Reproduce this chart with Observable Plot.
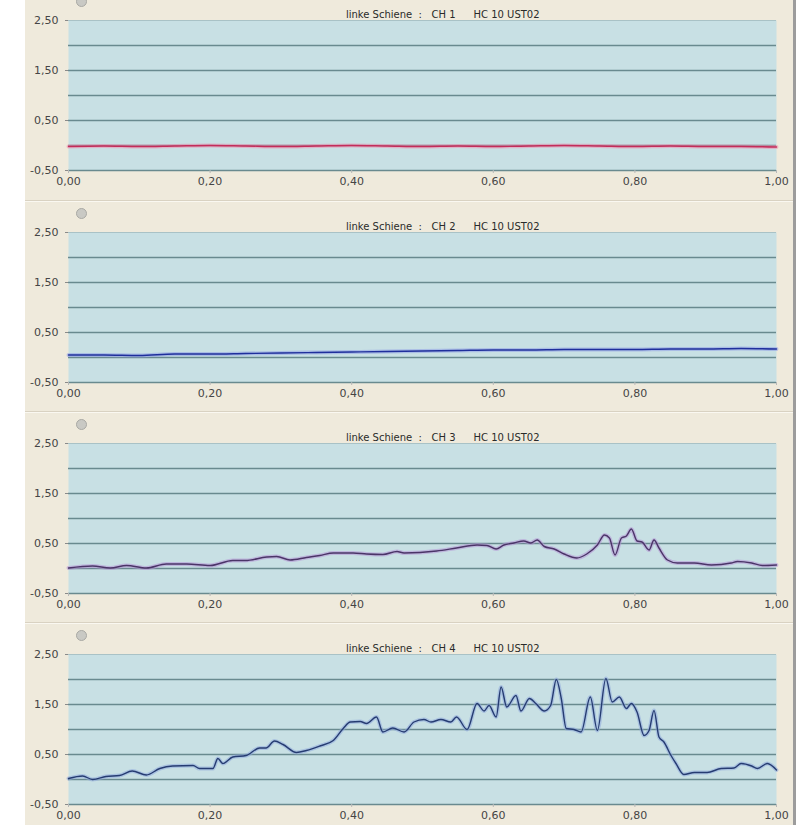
<!DOCTYPE html>
<html><head><meta charset="utf-8">
<script src="https://cdn.jsdelivr.net/npm/d3@7"></script>
<script src="https://cdn.jsdelivr.net/npm/@observablehq/plot@0.6"></script>
<style>
body{margin:0;background:#fff;}
#wrap{position:absolute;left:25px;top:0;width:768px;background:#efeadc;border-right:3px solid #9c9c9c;}
.panel{position:relative;overflow:hidden;}
.panel.sep::before{content:"";position:absolute;left:0;right:0;top:0;height:1px;background:#d9d2c2;}
.panel.sep::after{content:"";position:absolute;left:0;right:0;top:1px;height:1px;background:#faf8f1;}
svg{display:block;}
svg text{white-space:pre;}
</style></head><body><div id="wrap"></div>
<script>
// ---- data ----
const titles = ["linke Schiene  :   CH 1", "linke Schiene  :   CH 2", "linke Schiene  :   CH 3", "linke Schiene  :   CH 4"];
const subTitle = "HC 10 UST02";
const xTicks = [0, 0.2, 0.4, 0.6, 0.8, 1.0];
const yLabelTicks = [-0.5, 0.5, 1.5, 2.5];
const yGrid = [-0.5, 0, 0.5, 1, 1.5, 2];

const ch1T = [0,0.05,0.1,0.15,0.2,0.25,0.3,0.35,0.4,0.45,0.5,0.55,0.6,0.65,0.7,0.75,0.8,0.85,0.9,0.95,1.0];
const ch1V = [-0.02,-0.01,-0.02,-0.01,0.0,-0.01,-0.02,-0.01,0.0,-0.01,-0.02,-0.01,-0.02,-0.01,0.0,-0.01,-0.02,-0.01,-0.02,-0.02,-0.03];

const ch2T = [0,0.05,0.1,0.15,0.2,0.25,0.3,0.35,0.4,0.45,0.5,0.55,0.6,0.65,0.7,0.75,0.8,0.85,0.9,0.95,1.0];
const ch2V = [0.05,0.05,0.04,0.07,0.07,0.08,0.09,0.10,0.11,0.12,0.13,0.14,0.15,0.15,0.16,0.16,0.16,0.17,0.17,0.18,0.17];

const ch3T = [0,0.034,0.059,0.082,0.11,0.138,0.167,0.2,0.232,0.25,0.28,0.294,0.313,0.336,0.355,0.374,0.402,0.421,0.444,0.464,0.474,0.52,0.548,0.577,0.591,0.604,0.615,0.629,0.643,0.653,0.662,0.672,0.686,0.7,0.718,0.732,0.747,0.757,0.764,0.772,0.781,0.788,0.795,0.803,0.81,0.82,0.827,0.834,0.846,0.86,0.884,0.908,0.936,0.945,0.965,0.98,1.0];
const ch3V = [0.01,0.05,0.01,0.06,0.01,0.09,0.09,0.06,0.16,0.16,0.23,0.24,0.17,0.22,0.26,0.31,0.31,0.29,0.28,0.34,0.31,0.35,0.41,0.47,0.46,0.39,0.47,0.51,0.55,0.51,0.57,0.44,0.39,0.29,0.21,0.29,0.47,0.67,0.61,0.27,0.61,0.65,0.79,0.55,0.53,0.37,0.57,0.41,0.17,0.11,0.11,0.07,0.11,0.14,0.11,0.06,0.07];

const ch4T = [0,0.02,0.034,0.053,0.072,0.09,0.11,0.129,0.147,0.176,0.185,0.204,0.211,0.218,0.232,0.251,0.27,0.279,0.291,0.303,0.322,0.336,0.355,0.374,0.388,0.398,0.412,0.421,0.435,0.444,0.458,0.474,0.488,0.502,0.512,0.526,0.54,0.548,0.563,0.577,0.587,0.594,0.604,0.611,0.619,0.632,0.639,0.651,0.66,0.672,0.681,0.689,0.696,0.703,0.714,0.724,0.737,0.747,0.759,0.768,0.778,0.788,0.795,0.803,0.813,0.82,0.827,0.834,0.841,0.851,0.858,0.869,0.884,0.902,0.922,0.94,0.95,0.965,0.973,0.987,1.0];
const ch4V = [0.02,0.07,0.0,0.06,0.08,0.17,0.09,0.22,0.27,0.28,0.22,0.22,0.42,0.32,0.45,0.48,0.63,0.63,0.77,0.70,0.54,0.58,0.67,0.78,1.02,1.15,1.16,1.12,1.25,0.95,1.03,0.95,1.15,1.2,1.15,1.2,1.15,1.25,1.0,1.52,1.37,1.48,1.25,1.85,1.45,1.68,1.37,1.62,1.52,1.37,1.48,2.0,1.62,1.02,1.0,0.95,1.65,0.98,2.02,1.55,1.65,1.42,1.52,1.35,0.88,0.98,1.38,0.85,0.75,0.48,0.32,0.10,0.14,0.14,0.22,0.23,0.32,0.27,0.22,0.32,0.19];

// ---- styling ----
const series = [
  {T: ch1T, V: ch1V, halo: "#ee8fae", core: "#c42c5a"},
  {T: ch2T, V: ch2V, halo: "#8f9fe6", core: "#1f2f9c"},
  {T: ch3T, V: ch3V, halo: "#b594d6", core: "#4b3468"},
  {T: ch4T, V: ch4V, halo: "#90aadc", core: "#263c72"}
];
const layout = [
  {height: 200, marginTop: 20, marginBottom: 30},
  {height: 211, marginTop: 32, marginBottom: 29},
  {height: 211, marginTop: 32, marginBottom: 29},
  {height: 203, marginTop: 32, marginBottom: 21}
];
const fmt = d => d.toFixed(2).replace(".", ",");

const wrap = document.getElementById("wrap");
series.forEach((s, i) => {
  const rows = s.T.map((t, j) => ({t, v: s.V[j]}));
  const L = layout[i];
  const chart = Plot.plot({
    width: 768,
    height: L.height,
    marginTop: L.marginTop,
    marginBottom: L.marginBottom,
    marginLeft: 43,
    marginRight: 17,
    style: {background: "transparent", fontFamily: "DejaVu Sans, sans-serif", fontSize: "11px", color: "#454545"},
    x: {domain: [0, 1], label: null},
    y: {domain: [-0.5, 2.5], label: null},
    marks: [
      Plot.frame({fill: "#c8e0e4", stroke: null}),
      Plot.ruleY([2.5], {stroke: "#a9c2c6", strokeWidth: 1}),
      Plot.ruleY(yGrid, {stroke: "#698a8f", strokeWidth: 1.3}),
      Plot.axisY({ticks: yLabelTicks, tickFormat: fmt, tickSize: 3, tickPadding: 7, stroke: "#8a8a8a", label: null}),
      Plot.axisX({ticks: xTicks, tickFormat: fmt, tickSize: 3, tickPadding: 4, stroke: "#b8b8b8", label: null}),
      Plot.line(rows, {x: "t", y: "v", curve: "monotone-x", stroke: s.halo, strokeWidth: 4, strokeOpacity: 0.55}),
      Plot.line(rows, {x: "t", y: "v", curve: "monotone-x", stroke: s.core, strokeWidth: 1.4}),
      Plot.text([titles[i]], {text: d => d, frameAnchor: "top", textAnchor: "end", dx: 33, dy: -10, fontSize: 10, fill: "#2a2a2a"}),
      Plot.text([subTitle], {text: d => d, frameAnchor: "top", textAnchor: "start", dx: 51, dy: -10, fontSize: 10, fill: "#2a2a2a"}),
      Plot.dot([titles[i]], {frameAnchor: "top-left", dx: 13, dy: -19, r: 5, fill: "#c9c9c4", stroke: "#a9a9a4", strokeWidth: 1})
    ]
  });
  const div = document.createElement("div");
  div.className = "panel" + (i > 0 ? " sep" : "");
  div.style.height = L.height + "px";
  div.appendChild(chart);
  wrap.appendChild(div);
});
</script>
</body></html>
